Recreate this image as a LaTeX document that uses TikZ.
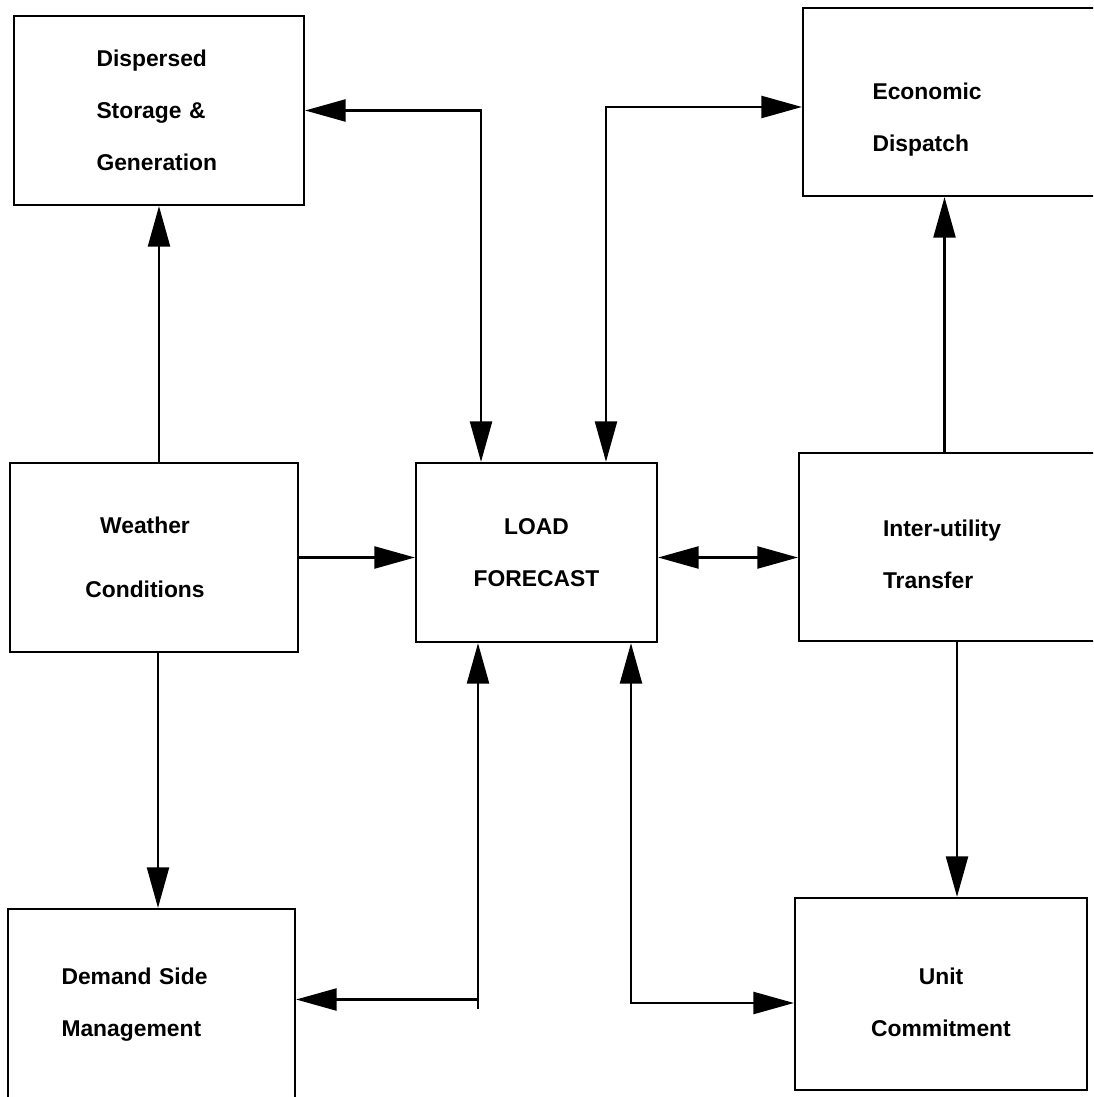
\documentclass[tikz,border=0pt]{standalone}
\usepackage{fontspec}
\setmainfont{Liberation Sans}
\usetikzlibrary{arrows.meta}

\tikzset{
  hv/.style={to path={-| (\tikztotarget) \tikztonodes}},
  vh/.style={to path={|- (\tikztotarget) \tikztonodes}},
}

\begin{document}
\begin{tikzpicture}[x=0.02cm, y=-0.02cm]

\clip (0,0) rectangle (1093,1097);
\fill[white] (0,0) rectangle (1093,1097);

\begin{scope}[every node/.style={rectangle,draw,line width=1.3pt,font=\bfseries\fontsize{13}{29.6}\selectfont}]
    \node (dsg) at (159, 110.5) [minimum width=5.8cm, minimum height=3.78cm, text width=2.5cm, align=left] {Dispersed\\Storage \&\\Generation};
    \node (econ) at (951.5, 102) [minimum width=5.94cm, minimum height=3.76cm, text width=3.16cm, align=left] {\rule{0pt}{29pt}Economic\\Dispatch};

    \node (wthr) at (154, 557.5) [minimum width=5.76cm, minimum height=3.78cm, align=center] {Weather\hspace*{0.36cm}\\[7pt]Conditions\hspace*{0.36cm}};
    \node (load) at (536.5, 552.5) [minimum width=4.82cm, minimum height=3.58cm, align=center] {LOAD\\FORECAST};
    \node (inter) at (949.5, 547) [minimum width=6.02cm, minimum height=3.76cm, text width=2.66cm, align=left] {\rule{0pt}{17.5pt}Inter-utility\\Transfer};

    \node (dsm) at (151.5, 1004.5) [minimum width=5.74cm, minimum height=3.82cm, text width=3.6cm, align=left] {Demand Side\\Management};
    \node (unit) at (941, 994) [minimum width=5.84cm, minimum height=3.84cm, align=center] {\rule{0pt}{18.5pt}Unit\\Commitment};
\end{scope}

\begin{scope}[>={Triangle[length=23pt, width=12.5pt]},
              every edge/.style={draw,line width=1.3pt}]
    \coordinate (econin) at ([yshift=-0.1cm]econ.west);
    \path [<->] (dsg.east) edge[hv] ([xshift=-1.11cm]load.north);
    \path [<->] (econin) edge[hv] ([xshift=1.39cm]load.north);

    \path [->] (wthr.north -| dsg.south) edge (dsg.south);
    \path [->] (wthr.east) edge (wthr.east -| load.west);
    \path [<->] (load.east |- wthr.east) edge (inter.west |- wthr.east);

    \path [->] ([xshift=-0.1cm]inter.north) edge ([xshift=-0.1cm]inter.north |- econ.south);
    \path [->] ([xshift=0.15cm]inter.south) edge ([xshift=0.15cm]inter.south |- unit.north);

    \path [->] ([xshift=0.08cm]wthr.south) edge ([xshift=0.08cm]wthr.south |- dsm.north);

    \coordinate (dtick) at (478, 1009);
    \coordinate (dsmin) at ([yshift=0.1cm]dsm.east);
    \path [->] (dtick) edge (dtick |- load.south);
    \path [->] (dsmin -| dtick) edge (dsmin);

    \path [<->] ([xshift=1.89cm]load.south) edge[vh] ([yshift=-0.18cm]unit.west);
\end{scope}

\end{tikzpicture}
\end{document}
